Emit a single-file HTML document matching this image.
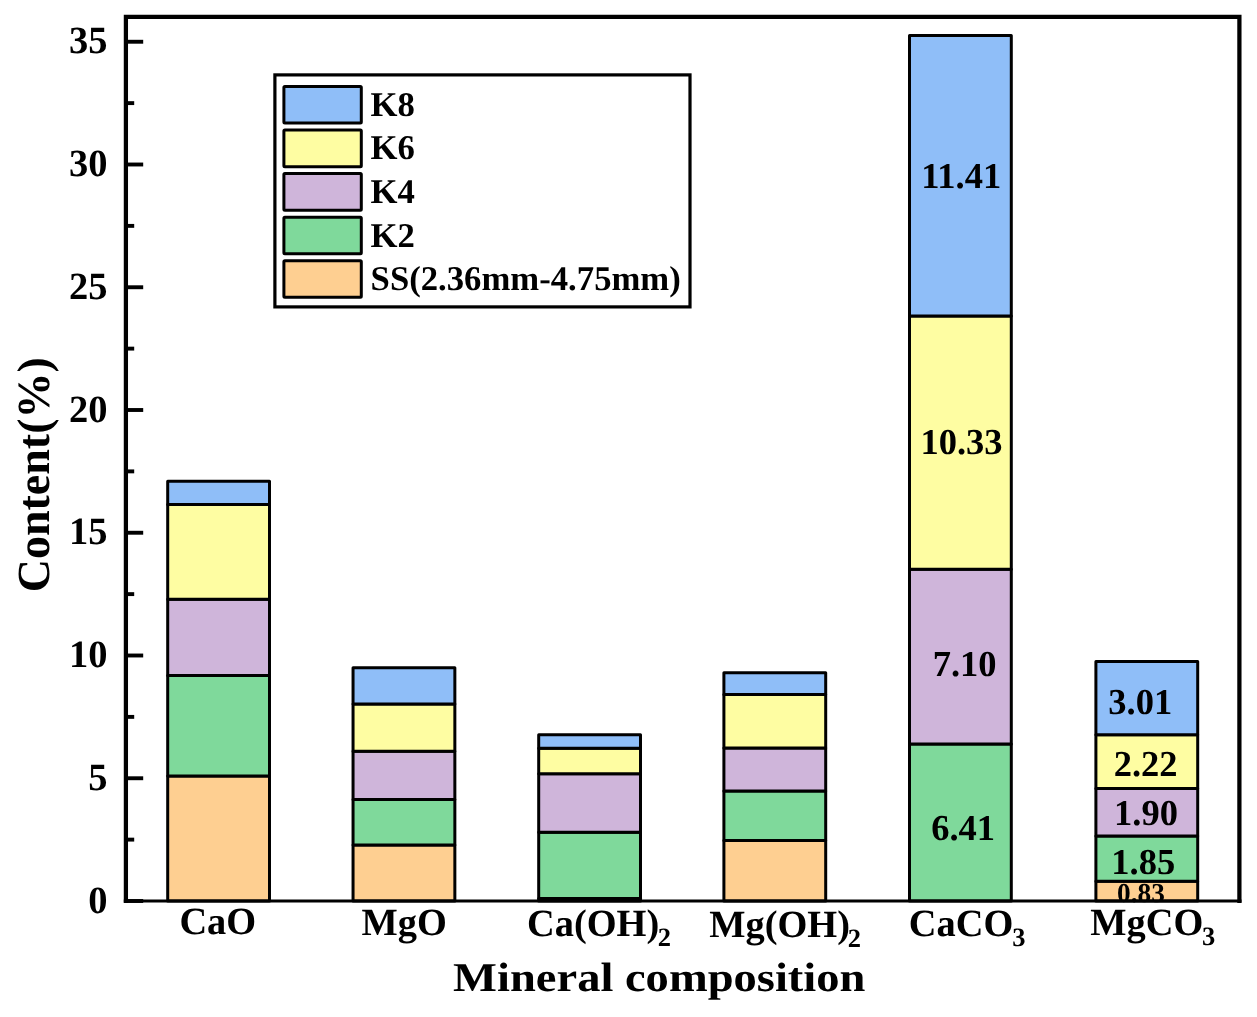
<!DOCTYPE html>
<html><head><meta charset="utf-8"><style>
html,body{margin:0;padding:0;background:#fff;}
body{width:1257px;height:1017px;overflow:hidden;}
svg{display:block;will-change:transform;}
text{font-family:"Liberation Serif",serif;font-weight:bold;fill:#000;text-rendering:geometricPrecision;}
</style></head><body>
<svg width="1257" height="1017" viewBox="0 0 1257 1017">
<rect x="0" y="0" width="1257" height="1017" fill="#fff"/>

<rect x="167.7" y="775.9" width="101.8" height="125.10" fill="#FECF91" stroke="#000" stroke-width="3" stroke-linejoin="round"/>
<rect x="167.7" y="675.4" width="101.8" height="100.50" fill="#7FD99B" stroke="#000" stroke-width="3" stroke-linejoin="round"/>
<rect x="167.7" y="599.3" width="101.8" height="76.10" fill="#CFB5DA" stroke="#000" stroke-width="3" stroke-linejoin="round"/>
<rect x="167.7" y="504.4" width="101.8" height="94.90" fill="#FEFDA2" stroke="#000" stroke-width="3" stroke-linejoin="round"/>
<rect x="167.7" y="481.3" width="101.8" height="23.10" fill="#8FBEF8" stroke="#000" stroke-width="3" stroke-linejoin="round"/>
<rect x="353.05" y="845.0" width="101.8" height="56.00" fill="#FECF91" stroke="#000" stroke-width="3" stroke-linejoin="round"/>
<rect x="353.05" y="799.4" width="101.8" height="45.60" fill="#7FD99B" stroke="#000" stroke-width="3" stroke-linejoin="round"/>
<rect x="353.05" y="751.3" width="101.8" height="48.10" fill="#CFB5DA" stroke="#000" stroke-width="3" stroke-linejoin="round"/>
<rect x="353.05" y="704.0" width="101.8" height="47.30" fill="#FEFDA2" stroke="#000" stroke-width="3" stroke-linejoin="round"/>
<rect x="353.05" y="667.7" width="101.8" height="36.30" fill="#8FBEF8" stroke="#000" stroke-width="3" stroke-linejoin="round"/>
<rect x="538.7" y="898.6" width="101.8" height="2.40" fill="#FECF91" stroke="#000" stroke-width="3" stroke-linejoin="round"/>
<rect x="538.7" y="832.3" width="101.8" height="66.30" fill="#7FD99B" stroke="#000" stroke-width="3" stroke-linejoin="round"/>
<rect x="538.7" y="773.7" width="101.8" height="58.60" fill="#CFB5DA" stroke="#000" stroke-width="3" stroke-linejoin="round"/>
<rect x="538.7" y="748.2" width="101.8" height="25.50" fill="#FEFDA2" stroke="#000" stroke-width="3" stroke-linejoin="round"/>
<rect x="538.7" y="734.7" width="101.8" height="13.50" fill="#8FBEF8" stroke="#000" stroke-width="3" stroke-linejoin="round"/>
<rect x="723.9" y="840.6" width="101.8" height="60.40" fill="#FECF91" stroke="#000" stroke-width="3" stroke-linejoin="round"/>
<rect x="723.9" y="791.0" width="101.8" height="49.60" fill="#7FD99B" stroke="#000" stroke-width="3" stroke-linejoin="round"/>
<rect x="723.9" y="748.1" width="101.8" height="42.90" fill="#CFB5DA" stroke="#000" stroke-width="3" stroke-linejoin="round"/>
<rect x="723.9" y="694.4" width="101.8" height="53.70" fill="#FEFDA2" stroke="#000" stroke-width="3" stroke-linejoin="round"/>
<rect x="723.9" y="672.7" width="101.8" height="21.70" fill="#8FBEF8" stroke="#000" stroke-width="3" stroke-linejoin="round"/>
<rect x="909.5" y="743.9" width="101.8" height="157.10" fill="#7FD99B" stroke="#000" stroke-width="3" stroke-linejoin="round"/>
<rect x="909.5" y="569.2" width="101.8" height="174.70" fill="#CFB5DA" stroke="#000" stroke-width="3" stroke-linejoin="round"/>
<rect x="909.5" y="315.9" width="101.8" height="253.30" fill="#FEFDA2" stroke="#000" stroke-width="3" stroke-linejoin="round"/>
<rect x="909.5" y="35.5" width="101.8" height="280.40" fill="#8FBEF8" stroke="#000" stroke-width="3" stroke-linejoin="round"/>
<rect x="1095.9" y="881.3" width="101.8" height="19.70" fill="#FECF91" stroke="#000" stroke-width="3" stroke-linejoin="round"/>
<rect x="1095.9" y="836.1" width="101.8" height="45.20" fill="#7FD99B" stroke="#000" stroke-width="3" stroke-linejoin="round"/>
<rect x="1095.9" y="788.6" width="101.8" height="47.50" fill="#CFB5DA" stroke="#000" stroke-width="3" stroke-linejoin="round"/>
<rect x="1095.9" y="734.8" width="101.8" height="53.80" fill="#FEFDA2" stroke="#000" stroke-width="3" stroke-linejoin="round"/>
<rect x="1095.9" y="661.4" width="101.8" height="73.40" fill="#8FBEF8" stroke="#000" stroke-width="3" stroke-linejoin="round"/>
<text x="961.2" y="187.7" font-size="36.5" text-anchor="middle">11.41</text>
<text x="961.5" y="453.6" font-size="36.5" text-anchor="middle">10.33</text>
<text x="964.6" y="676.2" font-size="36.5" text-anchor="middle">7.10</text>
<text x="963.1" y="840.2" font-size="36.5" text-anchor="middle">6.41</text>
<text x="1140.2" y="713.9" font-size="36.5" text-anchor="middle">3.01</text>
<text x="1145.65" y="776.3" font-size="36.5" text-anchor="middle">2.22</text>
<text x="1146.0" y="825.4" font-size="36.5" text-anchor="middle">1.90</text>
<text x="1143.2" y="873.5" font-size="36.5" text-anchor="middle">1.85</text>
<text x="1141.0" y="901.5" font-size="27.3" text-anchor="middle">0.83</text>
<path d="M125.9,903 L125.9,16.75 L1239.4,16.75 L1239.4,903" fill="none" stroke="#000" stroke-width="4.25" stroke-linejoin="miter"/>
<line x1="123.8" y1="901.1" x2="1241.5" y2="901.1" stroke="#000" stroke-width="3"/>
<line x1="126" y1="901.00" x2="143.2" y2="901.00" stroke="#000" stroke-width="3.9"/>
<text x="107.5" y="912.50" font-size="38.5" text-anchor="end">0</text>
<line x1="126" y1="839.62" x2="134.2" y2="839.62" stroke="#000" stroke-width="3.9"/>
<line x1="126" y1="778.25" x2="143.2" y2="778.25" stroke="#000" stroke-width="3.9"/>
<text x="107.5" y="789.75" font-size="38.5" text-anchor="end">5</text>
<line x1="126" y1="716.88" x2="134.2" y2="716.88" stroke="#000" stroke-width="3.9"/>
<line x1="126" y1="655.50" x2="143.2" y2="655.50" stroke="#000" stroke-width="3.9"/>
<text x="107.5" y="667.00" font-size="38.5" text-anchor="end">10</text>
<line x1="126" y1="594.12" x2="134.2" y2="594.12" stroke="#000" stroke-width="3.9"/>
<line x1="126" y1="532.75" x2="143.2" y2="532.75" stroke="#000" stroke-width="3.9"/>
<text x="107.5" y="544.25" font-size="38.5" text-anchor="end">15</text>
<line x1="126" y1="471.38" x2="134.2" y2="471.38" stroke="#000" stroke-width="3.9"/>
<line x1="126" y1="410.00" x2="143.2" y2="410.00" stroke="#000" stroke-width="3.9"/>
<text x="107.5" y="421.50" font-size="38.5" text-anchor="end">20</text>
<line x1="126" y1="348.62" x2="134.2" y2="348.62" stroke="#000" stroke-width="3.9"/>
<line x1="126" y1="287.25" x2="143.2" y2="287.25" stroke="#000" stroke-width="3.9"/>
<text x="107.5" y="298.75" font-size="38.5" text-anchor="end">25</text>
<line x1="126" y1="225.88" x2="134.2" y2="225.88" stroke="#000" stroke-width="3.9"/>
<line x1="126" y1="164.50" x2="143.2" y2="164.50" stroke="#000" stroke-width="3.9"/>
<text x="107.5" y="176.00" font-size="38.5" text-anchor="end">30</text>
<line x1="126" y1="103.12" x2="134.2" y2="103.12" stroke="#000" stroke-width="3.9"/>
<line x1="126" y1="41.75" x2="143.2" y2="41.75" stroke="#000" stroke-width="3.9"/>
<text x="107.5" y="53.25" font-size="38.5" text-anchor="end">35</text>
<text x="179.4" y="933.9" font-size="38.4">CaO</text>
<text x="361.5" y="934.6" font-size="38.4">MgO</text>
<text x="527.0" y="936.0" font-size="38.4">Ca(OH)<tspan font-size="26.5" dx="-1.4" dy="10">2</tspan></text>
<text x="709.3" y="937.1" font-size="38.4">Mg(OH)<tspan font-size="26.5" dx="-2.2" dy="10">2</tspan></text>
<text x="908.8" y="935.8" font-size="38.4">CaCO<tspan font-size="26.5" dx="-1.1" dy="10">3</tspan></text>
<text x="1090.3" y="934.5" font-size="38.4">MgCO<tspan font-size="26.5" dx="-1.4" dy="10">3</tspan></text>
<text transform="translate(454,991) scale(1.135,1)" x="-0.8" y="0" font-size="41">Mineral composition</text>
<text transform="translate(49.3,592.3) rotate(-90)" x="0" y="0" font-size="46">Content(%)</text>
<rect x="274.9" y="74.9" width="415.1" height="232" fill="#fff" stroke="#000" stroke-width="3.2"/>
<rect x="283.9" y="86.50" width="77.4" height="36.6" rx="1" fill="#8FBEF8" stroke="#000" stroke-width="3"/>
<text x="370.6" y="115.90" font-size="34.7">K8</text>
<rect x="283.9" y="130.05" width="77.4" height="36.6" rx="1" fill="#FEFDA2" stroke="#000" stroke-width="3"/>
<text x="370.6" y="159.45" font-size="34.7">K6</text>
<rect x="283.9" y="173.60" width="77.4" height="36.6" rx="1" fill="#CFB5DA" stroke="#000" stroke-width="3"/>
<text x="370.6" y="203.00" font-size="34.7">K4</text>
<rect x="283.9" y="217.15" width="77.4" height="36.6" rx="1" fill="#7FD99B" stroke="#000" stroke-width="3"/>
<text x="370.6" y="246.55" font-size="34.7">K2</text>
<rect x="283.9" y="260.70" width="77.4" height="36.6" rx="1" fill="#FECF91" stroke="#000" stroke-width="3"/>
<text x="370.6" y="290.10" font-size="34.7">SS(2.36mm-4.75mm)</text>
</svg></body></html>
